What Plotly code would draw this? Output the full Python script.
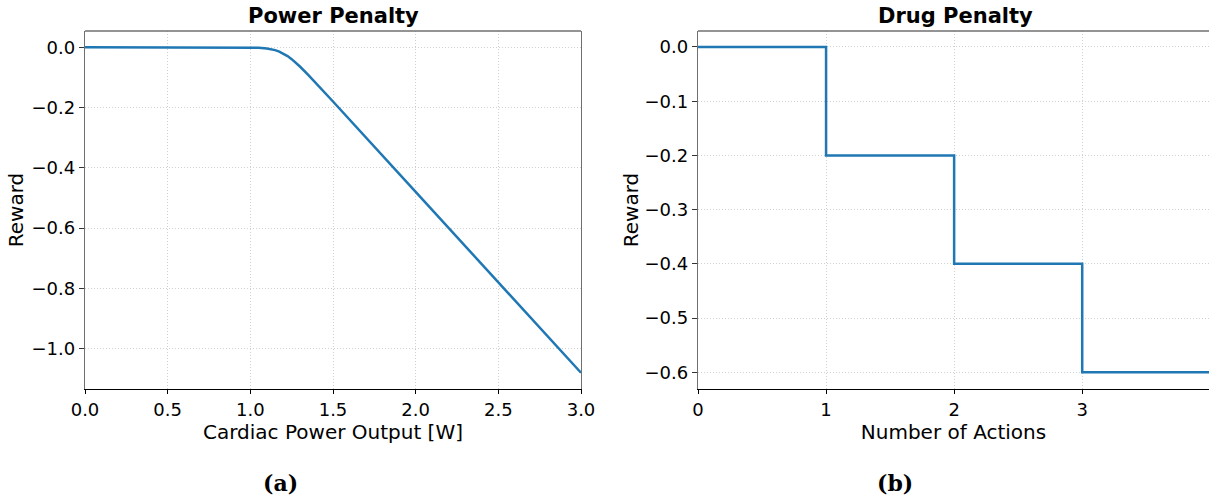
import plotly.graph_objects as go

# ---- data ----
power_x = [0.0, 0.5, 1.0, 1.05, 1.1, 1.125, 1.15, 1.175, 1.2, 1.225, 1.25, 1.275,
           1.3, 1.35, 1.4, 1.5, 2.0, 2.5, 3.0]
power_y = [0.0, 0.0, -0.0005, -0.0015, -0.0038, -0.006, -0.0094, -0.0142, -0.0208,
           -0.0292, -0.0394, -0.051, -0.0638, -0.0915, -0.1205, -0.18, -0.48, -0.78, -1.08]

actions_x = [0, 1, 2, 3, 4]
drug_y = [0.0, -0.2, -0.4, -0.6, -0.6]

power_xticks = [0.0, 0.5, 1.0, 1.5, 2.0, 2.5, 3.0]
power_yticks = [0.0, -0.2, -0.4, -0.6, -0.8, -1.0]
drug_xticks = [0, 1, 2, 3]
drug_yticks = [0.0, -0.1, -0.2, -0.3, -0.4, -0.5, -0.6]

BLUE = "#1f77b4"
SPINE = "#707070"
GRID = "#d0d0d0"
FONT = "DejaVu Sans"

W, H = 1209, 498
ydom = [1 - 389 / H, 1 - 31 / H]
x1dom = [85 / W, 581 / W]
x2dom = [698 / W, 1.0]


def fmt(v):
    return ("\u2212" if v < 0 else "") + f"{abs(v):.1f}"


fig = go.Figure()
fig.add_trace(go.Scatter(x=power_x, y=power_y, mode="lines",
                         line=dict(color=BLUE, width=2.5), xaxis="x", yaxis="y",
                         showlegend=False))
fig.add_trace(go.Scatter(x=actions_x, y=drug_y, mode="lines", line_shape="hv",
                         line=dict(color=BLUE, width=2.5), xaxis="x2", yaxis="y2",
                         showlegend=False))

tickfont = dict(family=FONT, size=18, color="black")
titlefont = dict(family=FONT, size=20, color="black")
common_x = dict(showgrid=True, gridcolor=GRID, griddash="1px,2px", gridwidth=1,
                showline=True, linecolor="black", linewidth=1.3,
                ticks="outside", ticklen=4, tickcolor="black", tickwidth=1.2,
                tickfont=tickfont, zeroline=False, automargin=False)
common_y = dict(showgrid=True, gridcolor=GRID, griddash="1px,2px", gridwidth=1,
                showline=True, linecolor=SPINE, linewidth=1.3,
                ticks="outside", ticklen=5, tickcolor="#333", tickwidth=1.2,
                tickfont=tickfont, zeroline=False, automargin=False)

fig.update_layout(
    width=W, height=H,
    margin=dict(l=0, r=0, t=0, b=0),
    paper_bgcolor="white", plot_bgcolor="white",
    xaxis=dict(common_x, domain=x1dom, range=[0, 3.0], tickvals=power_xticks,
               ticktext=[f"{v:.1f}" for v in power_xticks], anchor="y",
               title=dict(text="Cardiac Power Output [W]", font=titlefont, standoff=0)),
    yaxis=dict(common_y, domain=ydom, range=[-1.134, 0.054], tickvals=power_yticks,
               ticktext=[fmt(v) for v in power_yticks],
               anchor="x", mirror=True,
               title=dict(text="Reward", font=titlefont, standoff=2)),
    xaxis2=dict(common_x, domain=x2dom, range=[0, 3.99], tickvals=drug_xticks,
                ticktext=[str(v) for v in drug_xticks], anchor="y2",
                title=dict(text="Number of Actions", font=titlefont, standoff=0)),
    yaxis2=dict(common_y, domain=ydom, range=[-0.631, 0.0295], tickvals=drug_yticks,
                ticktext=[fmt(v) for v in drug_yticks],
                anchor="x2",
                title=dict(text="Reward", font=titlefont, standoff=0)),
)

# top spines
for xd in (x1dom, x2dom):
    fig.add_shape(type="line", xref="paper", yref="paper", x0=xd[0], x1=xd[1],
                  y0=ydom[1], y1=ydom[1], line=dict(color=SPINE, width=1.3))

# panel titles
fig.add_annotation(text="<b>Power Penalty</b>", xref="paper", yref="paper",
                   x=(x1dom[0] + x1dom[1]) / 2, y=1 - 16 / H, showarrow=False,
                   font=dict(family=FONT, size=21, color="black"),
                   xanchor="center", yanchor="middle")
fig.add_annotation(text="<b>Drug Penalty</b>", xref="paper", yref="paper",
                   x=955 / W, y=1 - 16 / H, showarrow=False,
                   font=dict(family=FONT, size=21, color="black"),
                   xanchor="center", yanchor="middle")

# sub-figure labels
for xp, lab in ((280, "(a)"), (895, "(b)")):
    fig.add_annotation(text=f"<b>{lab}</b>", xref="paper", yref="paper",
                       x=xp / W, y=1 - 483 / H, showarrow=False,
                       font=dict(family="DejaVu Serif", size=22, color="black"),
                       xanchor="center", yanchor="middle")

fig.write_html("out.html", config={"displayModeBar": False},
               post_script="document.body.style.margin='0';")
